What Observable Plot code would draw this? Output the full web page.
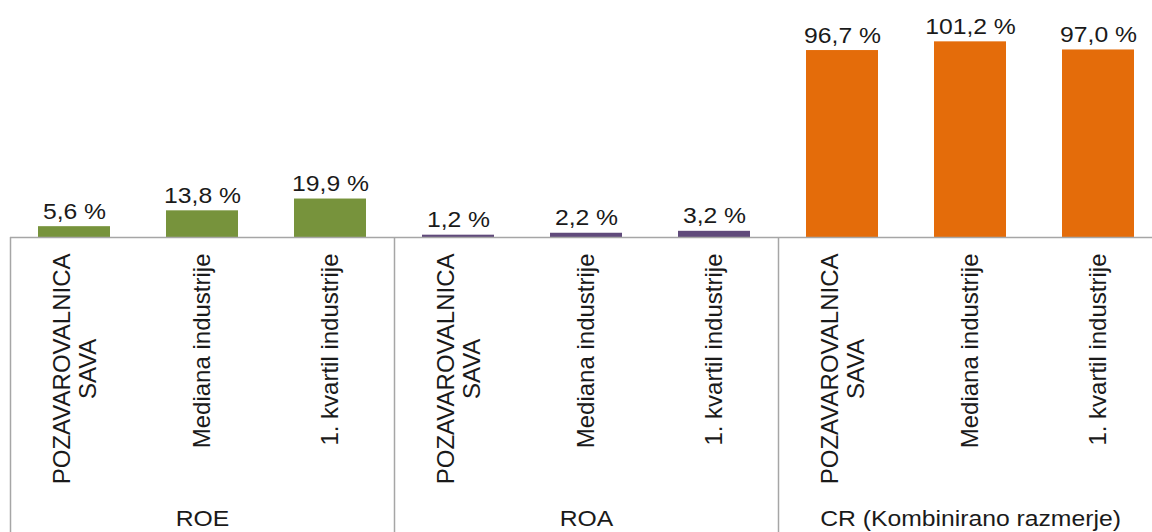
<!DOCTYPE html>
<html><head><meta charset="utf-8">
<script src="https://cdn.jsdelivr.net/npm/d3@7"></script>
<script src="https://cdn.jsdelivr.net/npm/@observablehq/plot@0.6"></script>
<style>
html,body{margin:0;padding:0;background:#fff;}
#chart svg{display:block;}
</style></head><body><div id="chart"></div>
<script>
// ---- data ----
const groups = ["ROE", "ROA", "CR (Kombinirano razmerje)"];
const categories = ["POZAVAROVALNICA\nSAVA", "Mediana industrije", "1. kvartil industrije"];
const roeValues = [5.6, 13.8, 19.9];
const roaValues = [1.2, 2.2, 3.2];
const crValues = [96.7, 101.2, 97.0];
const groupColors = ["#77933C", "#604A7B", "#E46C0A"];

const groupValues = [roeValues, roaValues, crValues];
const fontFamily = "'Liberation Sans', Arial, Helvetica, sans-serif";
const textColor = "#1a1a1a";
const lineColor = "#a6a6a6";

const rows = [];
groups.forEach((g, gi) => categories.forEach((c, ci) =>
  rows.push({group: g, category: c, key: g + "|" + c, value: groupValues[gi][ci]})));
const keys = rows.map(d => d.key);
const groupStarts = groups.map(g => rows.find(r => r.group === g).key);
const groupMids = groups.map(g => ({group: g, key: rows.filter(r => r.group === g)[1].key}));

const fmt = v => d3.format(".1f")(v).replace(".", ",") + " %";

function measure(text, size) {
  const ctx = document.createElement("canvas").getContext("2d");
  ctx.font = `${size}px ${fontFamily}`;
  return ctx.measureText(text).width;
}

const catSize = 24;
const catTop = 16;
const labelSize = 21.5;
const single = rows.filter(d => !d.category.includes("\n"));
const multi = rows.filter(d => d.category.includes("\n"));
const multiLen = d3.max(multi, d => d3.max(d.category.split("\n"), l => measure(l, catSize))) || 0;

const chart = Plot.plot({
  width: 1152, height: 532,
  marginTop: 5, marginBottom: 295, marginLeft: 10, marginRight: 0,
  style: {fontFamily, background: "#fff", overflow: "visible"},
  x: {domain: keys, range: [10, 1162], paddingInner: 0.4375, paddingOuter: 0.21875, axis: null},
  y: {domain: [0, 120], axis: null},
  color: {domain: groups, range: groupColors},
  marks: [
    Plot.barY(rows, {x: "key", y: "value", fill: "group"}),
    Plot.ruleY([0], {stroke: lineColor, strokeWidth: 1.5}),
    Plot.axisX({ticks: groupStarts, tickSize: 295, tickFormat: () => "", dx: -64, stroke: lineColor, strokeWidth: 1.5, label: null}),
    Plot.text(rows, {x: "key", y: "value", text: d => fmt(d.value), lineAnchor: "bottom", dy: -8, fontSize: labelSize, fill: textColor}),
    Plot.text(single, {x: "key", frameAnchor: "bottom", text: "category", rotate: -90, textAnchor: "end", lineAnchor: "middle", dy: catTop, fontSize: catSize, fill: textColor}),
    Plot.text(multi, {x: "key", frameAnchor: "bottom", text: "category", rotate: -90, textAnchor: "middle", lineAnchor: "middle", lineHeight: 1.08, dy: catTop + multiLen / 2, fontSize: catSize, fill: textColor}),
    Plot.text(groupMids, {x: "key", frameAnchor: "bottom", text: "group", lineAnchor: "middle", dy: 282, fontSize: labelSize, fill: textColor})
  ]
});
// the reference's horizontal labels are drawn wide: stretch them horizontally about their anchor
d3.select(chart).selectAll("text")
  .filter(function() { const t = this.getAttribute("transform") || ""; return t.includes("translate") && !t.includes("rotate"); })
  .attr("transform", function() { return this.getAttribute("transform") + " scale(1.15,1)"; });
document.getElementById("chart").appendChild(chart);
</script>
</body></html>
